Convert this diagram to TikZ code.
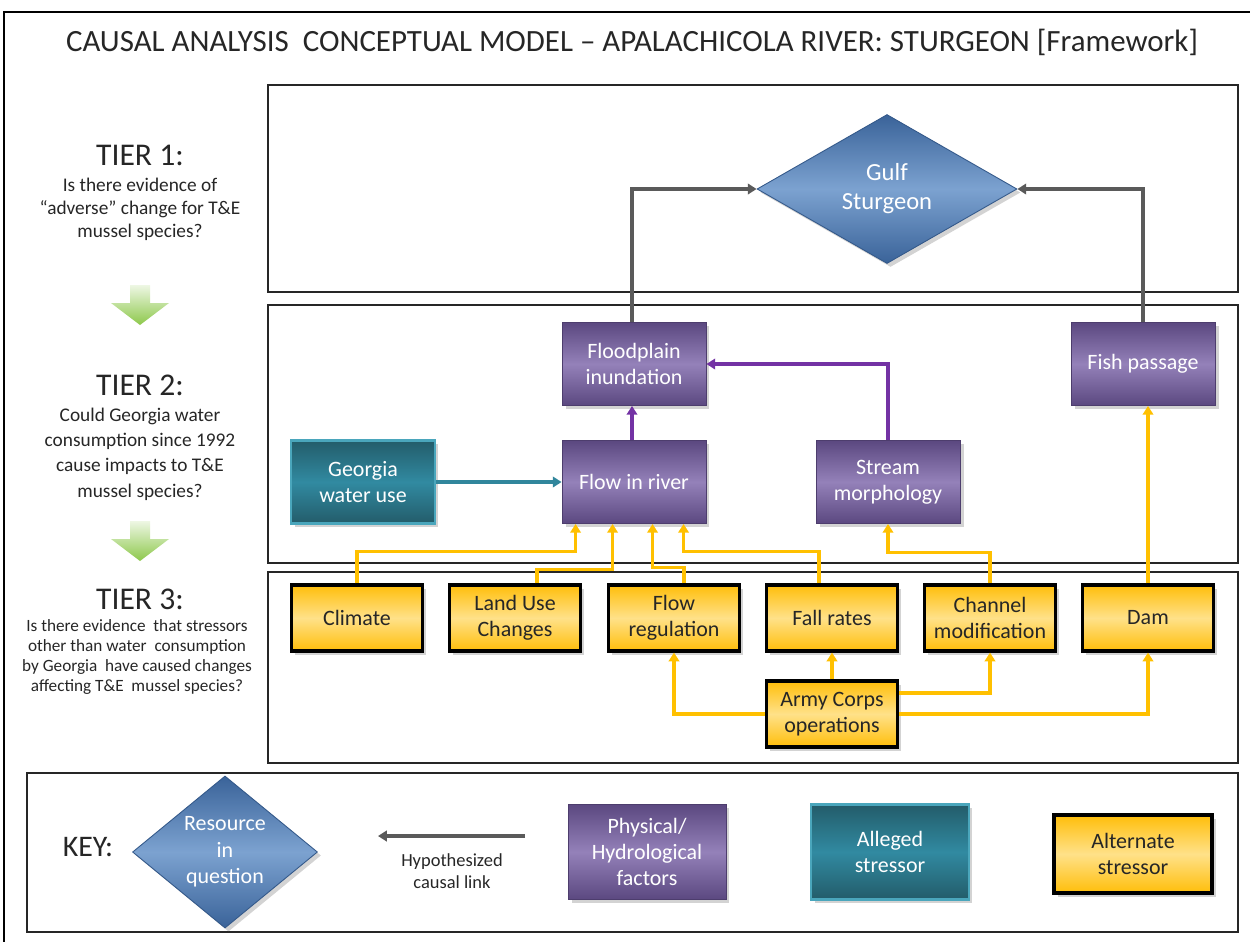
\documentclass[tikz,border=0pt]{standalone}
\usepackage{fontspec}
\setmainfont{Carlito}
\usetikzlibrary{shapes.geometric,shadows,arrows.meta}

\definecolor{purpdark}{HTML}{5B4880}
\definecolor{purplight}{HTML}{9481B9}
\definecolor{tealdark}{HTML}{235C6A}
\definecolor{teallight}{HTML}{318AA1}
\definecolor{tealedge}{HTML}{4AA6BC}
\definecolor{golddark}{HTML}{FFBE0A}
\definecolor{goldlight}{HTML}{FFE189}
\definecolor{bluedark}{HTML}{3A6399}
\definecolor{bluelight}{HTML}{7CA2D0}
\definecolor{linkgray}{HTML}{5A5A5A}
\definecolor{linkpurple}{HTML}{7332A4}
\definecolor{linkteal}{HTML}{31869C}
\definecolor{linkgold}{HTML}{FFC000}
\definecolor{arrowgreen}{HTML}{8DC84B}

\tikzset{
  boxshadow/.style={drop shadow={opacity=0.35, shadow xshift=0.07cm, shadow yshift=-0.07cm}},
  physbox/.style={rectangle, draw=purpdark!85!black, line width=0.5pt,
    top color=purpdark, bottom color=purpdark, middle color=purplight,
    minimum width=2.88cm, minimum height=1.66cm, align=center, text=white,
    font=\fontsize{12.5}{15}\selectfont, boxshadow},
  allegedbox/.style={physbox, draw=tealedge, line width=1.4pt,
    top color=tealdark, bottom color=tealdark, middle color=teallight},
  altbox/.style={rectangle, draw=black, line width=1.8pt,
    top color=golddark, bottom color=golddark, middle color=goldlight,
    minimum width=2.62cm, minimum height=1.32cm, align=center, text=black!85,
    font=\fontsize{12.5}{15}\selectfont, boxshadow},
  resource/.style={diamond, draw=bluedark!90!black, line width=0.5pt,
    top color=bluedark, bottom color=bluedark, middle color=bluelight,
    inner sep=0pt, align=center, text=white,
    font=\fontsize{12.5}{15}\selectfont, boxshadow},
  tierframe/.style={draw=black!85, line width=0.9pt},
  tierhead/.style={font=\fontsize{18}{20}\selectfont, text=black!85},
  tierq/.style={align=center, text=black!85},
  link/.style={line width=2pt, -{Triangle[length=5pt,width=6pt]}},
  graylink/.style={link, linkgray},
  purplelink/.style={link, linkpurple},
  teallink/.style={link, linkteal},
  goldlink/.style={link, linkgold},
}

% green down arrow between the tiers, tip at #1
\newcommand{\tierarrow}[1]{
  \shade[top color=arrowgreen!15, bottom color=arrowgreen] #1
    ++(-10,-40) -- ++(20,0) -- ++(0,18) -- ++(19,0) -- #1 -- ++(-29,-22) -- ++(19,0) -- cycle;
}

\begin{document}
\begin{tikzpicture}[x=0.02cm, y=-0.02cm]
  \useasboundingbox (0,0) rectangle (1250,941);
  \draw[black, line width=1.2pt] (4,960) -- (4,12) -- (1270,12);

  \node[font=\fontsize{17.6}{20}\selectfont, text=black!85] (title) at (632,42)
    {CAUSAL ANALYSIS\ \ CONCEPTUAL MODEL -- APALACHICOLA RIVER: STURGEON [Framework]};

  % tier frames and key frame
  \draw[tierframe] (268,85) rectangle (1238,292);
  \draw[tierframe] (268,305) rectangle (1238,563);
  \draw[tierframe] (268,572) rectangle (1238,763);
  \draw[tierframe] (27,773) rectangle (1238,932);

  % tier questions
  \node[tierhead] (tier1) at (140,155) {TIER 1:};
  \node[tierq, font=\fontsize{11}{13}\selectfont] (q1) at (140,209)
    {Is there evidence of\\``adverse'' change for T\&E\\mussel species?};
  \node[tierhead] (tier2) at (140,385) {TIER 2:};
  \node[tierq, font=\fontsize{11}{14.4}\selectfont] (q2) at (140,454)
    {Could Georgia water\\consumption since 1992\\cause impacts to T\&E\\mussel species?};
  \node[tierhead] (tier3) at (140,599) {TIER 3:};
  \node[tierq, font=\fontsize{9.8}{11.3}\selectfont] (q3) at (137,657)
    {Is there evidence\ \ that stressors\\other than water\ \ consumption\\by Georgia\ \ have caused changes\\affecting T\&E\ \ mussel species?};
  \tierarrow{(140,325)}
  \tierarrow{(140,561)}

  % tier 1
  \node[resource, font=\fontsize{14}{16.5}\selectfont, minimum width=5.2cm, minimum height=2.98cm]
    (sturgeon) at (887,189) {Gulf\\Sturgeon};

  % tier 2
  \node[physbox] (floodplain) at (634,364) {Floodplain\\inundation};
  \node[physbox] (fishpass) at (1143,364) {Fish passage};
  \node[physbox] (flowriver) at (634,482) {Flow in river};
  \node[physbox] (streammorph) at (888,482) {Stream\\morphology};
  \node[allegedbox] (gawater) at (363,482) {Georgia\\water use};

  % tier 3
  \foreach \nm/\xx/\txt in {climate/357/Climate, landuse/515/{Land Use\\Changes},
      flowreg/674/{Flow\\regulation}, fallrates/832/Fall rates,
      channel/990/{Channel\\modification}, dam/1148/Dam}
    \node[altbox] (\nm) at (\xx,618) {\txt};
  \node[altbox] (army) at (832,714) {Army Corps\\operations};

  % links into the resource
  \draw[graylink] ([xshift=-0.04cm]floodplain.north) |- (sturgeon.west);
  \draw[graylink] (fishpass.north) |- (sturgeon.east);
  \draw[purplelink] ([xshift=-0.04cm]flowriver.north) -- ([xshift=-0.04cm]floodplain.south);
  \draw[purplelink] (streammorph.north) |- (floodplain.east);
  \draw[teallink] (gawater.east) -- (flowriver.west);

  % alternate stressors
  \draw[goldlink] (climate.north) -- ++(0,-32) -| ([xshift=0.28cm]flowriver.south west);
  \draw[goldlink] ([xshift=0.44cm]landuse.north) -- ++(0,-14) -| ([xshift=1.02cm]flowriver.south west);
  \draw[goldlink] ([xshift=0.2cm]flowreg.north) -- ++(0,-16) -| ([xshift=1.82cm]flowriver.south west);
  \draw[goldlink] ([xshift=-0.26cm]fallrates.north) -- ++(0,-32) -| ([xshift=2.44cm]flowriver.south west);
  \draw[goldlink] (channel.north) -- ++(0,-31) -| (streammorph.south);
  \draw[goldlink] (dam.north) -- (dam.north |- fishpass.south);
  \draw[goldlink] (army.north) -- (fallrates.south);
  \draw[goldlink] ([yshift=0.42cm]army.east) -| (channel.south);
  \draw[goldlink] (army.east) -| (dam.south);
  \draw[goldlink] (army.west) -| (flowreg.south);

  % key
  \node[font=\fontsize{17}{20}\selectfont, text=black!85] (keylabel) at (88,847) {KEY:};
  \node[resource, minimum width=3.7cm, minimum height=2.66cm] (keyres) at (225,852) {Resource\\in\\question};
  \coordinate (keytail) at (525,836);
  \coordinate (keyhead) at (378,836);
  \draw[graylink] (keytail) -- (keyhead);
  \node[align=center, font=\fontsize{10.5}{12.5}\selectfont, text=black!85] (keylink) at (452,871)
    {Hypothesized\\causal link};
  \node[physbox, minimum width=3.16cm, minimum height=1.9cm] (keyphys) at (647,852)
    {Physical/\\Hydrological\\factors};
  \node[allegedbox, minimum width=3.16cm, minimum height=1.9cm] (keyalleged) at (890,852)
    {Alleged\\stressor};
  \node[altbox, minimum width=3.16cm, minimum height=1.56cm] (keyalt) at (1133,854)
    {Alternate\\stressor};
\end{tikzpicture}
\end{document}
